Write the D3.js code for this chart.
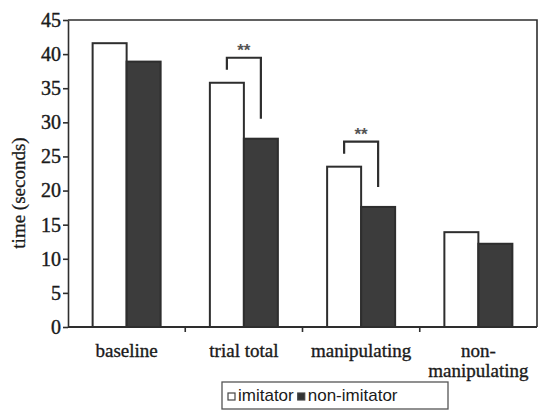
<!DOCTYPE html>
<html>
<head>
<meta charset="utf-8">
<script src="https://cdn.jsdelivr.net/npm/d3@7"></script>
<style>
  body { margin: 0; background: #fff; }
  text { fill: #1a1a1a; }
</style>
</head>
<body>
<div id="chart"></div>
<script>
// chart values
const categories = ['baseline', 'trial total', 'manipulating', 'non-manipulating'];
const seriesNames = ['imitator', 'non-imitator'];
const imitator = [41.6, 35.8, 23.5, 13.9];
const nonImitator = [38.9, 27.6, 17.6, 12.2];
const yTicks = [0, 5, 10, 15, 20, 25, 30, 35, 40, 45];
const significant = ['trial total', 'manipulating'];

const width = 544, height = 415;
const margin = {top: 20, right: 7, bottom: 88, left: 68};
const innerW = width - margin.left - margin.right;
const innerH = height - margin.top - margin.bottom;
const ink = '#2e2e2e';
const serif = 'Liberation Serif, Times New Roman, serif';

const svg = d3.select('#chart').append('svg')
    .attr('width', width)
    .attr('height', height);

const g = svg.append('g')
    .attr('transform', `translate(${margin.left},${margin.top})`);

const x = d3.scaleBand().domain(categories).range([0, innerW]);
const y = d3.scaleLinear().domain([0, 45]).range([innerH, 0]);

const barW = x.bandwidth() * 0.29;
const rows = categories.map((c, i) => ({cat: c, vals: [imitator[i], nonImitator[i]]}));

// frame: top and right
g.append('path')
  .attr('d', `M0,0H${innerW}V${innerH}`)
  .attr('fill', 'none').attr('stroke', ink).attr('stroke-width', 1.6);

// bars
rows.forEach(r => {
  r.vals.forEach((v, j) => {
    g.append('rect')
      .attr('x', x(r.cat) + x.bandwidth() / 2 - barW + j * barW)
      .attr('y', y(v))
      .attr('width', barW)
      .attr('height', innerH - y(v))
      .attr('fill', j === 0 ? '#fff' : '#3c3c3c')
      .attr('stroke', ink)
      .attr('stroke-width', 2);
  });
});

// significance brackets
significant.forEach(c => {
  const i = categories.indexOf(c);
  const cx = x(c) + x.bandwidth() / 2;
  const x1 = cx - barW / 2, x2 = cx + barW / 2;
  const yl = y(imitator[i]) - 13, yr = y(nonImitator[i]) - 20;
  const top = y(imitator[i]) - 25;
  g.append('path')
    .attr('d', `M${x1},${yl}V${top}H${x2}V${yr}`)
    .attr('fill', 'none').attr('stroke', ink).attr('stroke-width', 2.2);
  g.append('text')
    .attr('x', cx).attr('y', top - 2)
    .attr('text-anchor', 'middle')
    .attr('font-family', 'Liberation Sans, Arial, sans-serif')
    .attr('font-size', 17).attr('font-weight', 'bold')
    .style('fill', '#555')
    .text('**');
});

// y axis
const yAxis = g.append('g')
  .call(d3.axisLeft(y).tickValues(yTicks).tickSize(5).tickSizeOuter(0));
yAxis.select('.domain').attr('stroke', ink).attr('stroke-width', 1.6);
yAxis.selectAll('line').attr('stroke', ink).attr('stroke-width', 1.6);
yAxis.selectAll('text')
  .attr('font-family', serif)
  .attr('font-size', 20).attr('x', -7)
  .style('fill', '#1a1a1a').style('stroke', '#1a1a1a').style('stroke-width', 0.4);

// x axis: ticks at category boundaries
const xAxis = g.append('g').attr('transform', `translate(0,${innerH})`);
xAxis.append('line').attr('x1', 0).attr('x2', innerW)
  .attr('stroke', ink).attr('stroke-width', 2);
categories.slice(1).forEach(c => {
  xAxis.append('line').attr('x1', x(c)).attr('x2', x(c))
    .attr('y1', 0).attr('y2', 5).attr('stroke', ink).attr('stroke-width', 1.6);
});

categories.forEach(c => {
  const t = xAxis.append('text')
    .attr('x', x(c) + x.bandwidth() / 2)
    .attr('text-anchor', 'middle')
    .attr('font-family', serif)
    .attr('font-size', 19)
    .style('stroke', '#1a1a1a').style('stroke-width', 0.35);
  const parts = c === 'non-manipulating' ? ['non-', 'manipulating'] : [c];
  parts.forEach((p, k) => {
    t.append('tspan').attr('x', x(c) + x.bandwidth() / 2)
      .attr('y', 30 + k * 20).text(p);
  });
});

// y label
svg.append('text')
  .attr('transform', 'translate(25,193) rotate(-90)')
  .attr('text-anchor', 'middle')
  .attr('font-family', serif)
  .attr('font-size', 19)
  .style('stroke', '#1a1a1a').style('stroke-width', 0.3)
  .text('time (seconds)');

// legend
const lg = svg.append('g').attr('transform', 'translate(222,382)');
lg.append('rect').attr('width', 226).attr('height', 27)
  .attr('fill', '#fff').attr('stroke', '#555').attr('stroke-width', 1.3);
let lx = 6;
seriesNames.forEach((s, j) => {
  lg.append('rect').attr('x', lx).attr('y', 11).attr('width', 7).attr('height', 7)
    .attr('fill', j === 0 ? '#fff' : '#333').attr('stroke', '#444').attr('stroke-width', 1.2);
  const t = lg.append('text').attr('x', lx + 10).attr('y', 19)
    .attr('font-family', 'Liberation Sans, Arial, sans-serif')
    .attr('font-size', 17)
    .text(s);
  lx += 10 + t.node().getComputedTextLength() + 4;
});
</script>
</body>
</html>
